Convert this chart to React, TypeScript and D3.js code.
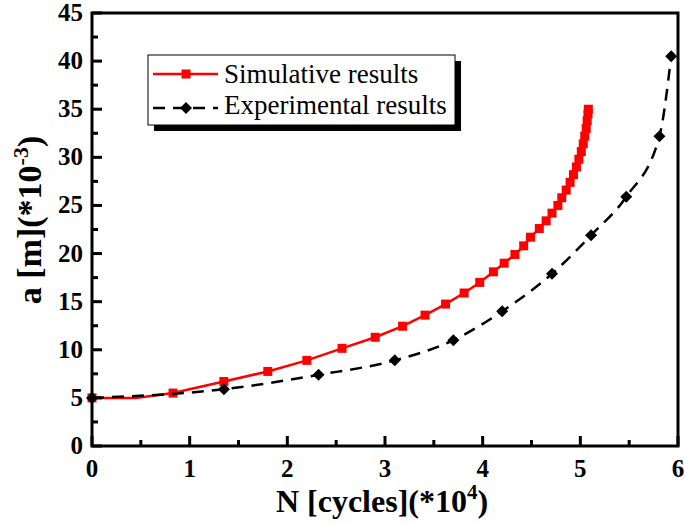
import React from 'react';
import * as d3 from 'd3';

// Simulative results (N in 1e4 cycles, a in 1e-3 m)
const simN = [0, 0.45, 0.83, 1.35, 1.80, 2.20, 2.56, 2.90, 3.18, 3.41, 3.62, 3.81, 3.97, 4.11, 4.22, 4.33, 4.42, 4.49, 4.58, 4.65, 4.71, 4.77, 4.81, 4.855, 4.895, 4.93, 4.96, 4.985, 5.01, 5.03, 5.045, 5.06, 5.07, 5.078, 5.082];
const simA = [5.0, 5.0, 5.5, 6.7, 7.75, 8.9, 10.15, 11.3, 12.45, 13.6, 14.75, 15.9, 17.0, 18.1, 19.0, 19.9, 20.8, 21.7, 22.6, 23.4, 24.2, 25.0, 25.8, 26.6, 27.4, 28.2, 29.0, 29.8, 30.6, 31.4, 32.2, 33.0, 33.8, 34.5, 35.0];

// Experimental results
const expN = [0, 1.35, 2.32, 3.10, 3.70, 4.20, 4.71, 5.11, 5.47, 5.81, 5.93];
const expA = [5.0, 5.9, 7.4, 8.9, 11.0, 14.0, 17.9, 21.9, 25.9, 32.2, 40.5];

const xTicks = [0, 1, 2, 3, 4, 5, 6];
const xMinor = [0.5, 1.5, 2.5, 3.5, 4.5, 5.5];
const yTicks = [0, 5, 10, 15, 20, 25, 30, 35, 40, 45];
const yMinor = [2.5, 7.5, 12.5, 17.5, 22.5, 27.5, 32.5, 37.5, 42.5];
const legendLabels = ['Simulative results', 'Experimental results'];

const FONT = '"Liberation Serif", "Times New Roman", serif';

export default function App() {
  const W = 685, H = 525;
  const x = d3.scaleLinear().domain([0, 6]).range([92, 678]);
  const y = d3.scaleLinear().domain([0, 45]).range([446, 13]);

  const sim = simN.map((n, i) => [n, simA[i]] as [number, number]);
  const exp = expN.map((n, i) => [n, expA[i]] as [number, number]);

  const simLine = d3.line<[number, number]>().x(d => x(d[0])).y(d => y(d[1])).curve(d3.curveLinear);
  const expLine = d3.line<[number, number]>().x(d => x(d[0])).y(d => y(d[1])).curve(d3.curveMonotoneX);

  const diamond = (cx: number, cy: number, r: number) => `M${cx},${cy - r}L${cx + r},${cy}L${cx},${cy + r}L${cx - r},${cy}Z`;
  const sq = 9;

  const [x0, x1] = x.range();
  const [yb, yt] = y.range();

  return (
    <svg width={W} height={H} style={{ position: 'absolute', left: 0, top: 0, background: '#fff' }} fontFamily={FONT}>
      <rect x={0} y={0} width={W} height={H} fill="#fff" />
      {/* data */}
      <path d={simLine(sim) || ''} fill="none" stroke="#ff0000" strokeWidth={2.5} />
      {sim.filter((_, i) => i !== 1).map((d, i) => (
        <rect key={'s' + i} x={x(d[0]) - sq / 2} y={y(d[1]) - sq / 2} width={sq} height={sq} fill="#ff0000" />
      ))}
      <path d={expLine(exp) || ''} fill="none" stroke="#000" strokeWidth={2.5} strokeDasharray="12,8" />
      {exp.map((d, i) => (
        <path key={'e' + i} d={diamond(x(d[0]), y(d[1]), 6)} fill="#000" />
      ))}

      {/* frame */}
      <rect x={x0} y={yt} width={x1 - x0} height={yb - yt} fill="none" stroke="#000" strokeWidth={3} />
      {yTicks.map(t => (
        <line key={'yt' + t} x1={x0} x2={x0 + 10} y1={y(t)} y2={y(t)} stroke="#000" strokeWidth={3} />
      ))}
      {yMinor.map(t => (
        <line key={'ym' + t} x1={x0} x2={x0 + 6} y1={y(t)} y2={y(t)} stroke="#000" strokeWidth={3} />
      ))}
      {xTicks.map(t => (
        <line key={'xt' + t} x1={x(t)} x2={x(t)} y1={yb} y2={yb - 10} stroke="#000" strokeWidth={3} />
      ))}
      {xMinor.map(t => (
        <line key={'xm' + t} x1={x(t)} x2={x(t)} y1={yb} y2={yb - 6} stroke="#000" strokeWidth={3} />
      ))}

      {/* tick labels */}
      {yTicks.map(t => (
        <text key={'yl' + t} x={x0 - 9} y={y(t) + 8} textAnchor="end" fontSize={25} fontWeight="bold">{t}</text>
      ))}
      {xTicks.map(t => (
        <text key={'xl' + t} x={x(t)} y={477} textAnchor="middle" fontSize={25} fontWeight="bold">{t}</text>
      ))}

      {/* axis titles */}
      <text x={382} y={512} textAnchor="middle" fontSize={32} fontWeight="bold">
        N [cycles](*10<tspan dy={-13} fontSize={21}>4</tspan><tspan dy={13}>)</tspan>
      </text>
      <text transform="translate(41,220) rotate(-90)" textAnchor="middle" fontSize={34} fontWeight="bold">
        a [m](*10<tspan dy={-13} fontSize={22}>-3</tspan><tspan dy={13}>)</tspan>
      </text>

      {/* legend */}
      <rect x={154} y={61} width={307} height={70} fill="#000" />
      <rect x={148} y={55} width={307} height={70} fill="#fff" stroke="#000" strokeWidth={1} />
      <line x1={153} x2={218} y1={74} y2={74} stroke="#ff0000" strokeWidth={2.5} />
      <rect x={186 - sq / 2} y={74 - sq / 2} width={sq} height={sq} fill="#ff0000" />
      <line x1={153} x2={218} y1={108} y2={108} stroke="#000" strokeWidth={2.5} strokeDasharray="12,8" />
      <path d={diamond(186, 108, 6)} fill="#000" />
      <text x={224} y={83} fontSize={27}>{legendLabels[0]}</text>
      <text x={224} y={114} fontSize={27}>{legendLabels[1]}</text>
    </svg>
  );
}
